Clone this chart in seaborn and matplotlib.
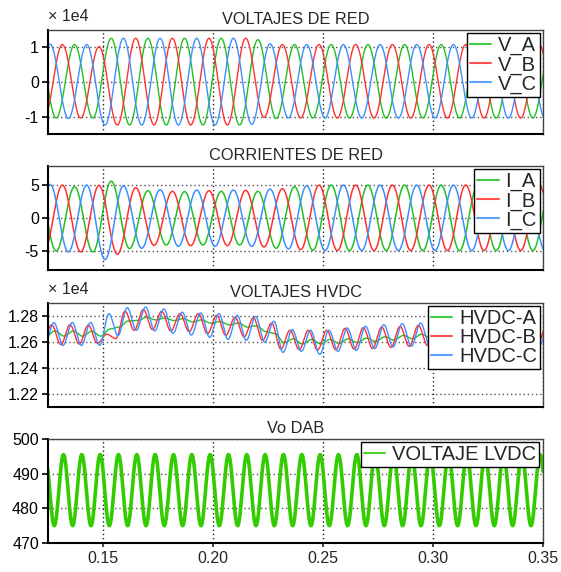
import numpy as np
import pandas as pd
import seaborn as sns
import matplotlib.pyplot as plt

# Waveforms are stored as the successive peak / trough values.
# The time of the first extremum and the half period fix where each one sits.
x_ticks = [0.15, 0.20, 0.25, 0.30, 0.35]
half_60 = 1 / 120   # half period of the 60 Hz grid signals
half_120 = 1 / 240  # half period of the 120 Hz DC ripple

# VOLTAJES DE RED (x 1e4)
volt_names = ['V_A', 'V_B', 'V_C']
volt_start = [0.1204, 0.1232, 0.1176]
volt_a = [1.08, -1.04] * 2 + [1.26, -1.24] * 4 + [1.22, -1.05] + [1.08, -1.04] * 8
volt_b = [-1.04, 1.08, -1.04, 1.02] + [-1.24, 1.26] * 4 + [-1.02, 1.08] + [-1.04, 1.08] * 8
volt_c = [-1.04, 1.09, -1.05, 1.08] + [-1.24, 1.26] * 4 + [-1.22, 1.10] + [-1.04, 1.08] * 8

# CORRIENTES DE RED
curr_names = ['I_A', 'I_B', 'I_C']
curr_start = [0.1204, 0.1232, 0.1176]
curr_a = [4.9, -5.0, 4.75, -5.15, 5.6, -4.65, 4.15, -4.1, 4.0, -4.1, 4.05, -4.1,
          4.05, -4.6, 4.75, -4.9] + [5.0, -4.95] * 7
curr_b = [-5.0, 5.0, -5.15, 4.95, -5.5, 4.6, -4.15, 4.05, -4.2, 4.15, -4.2, 4.2,
          -4.4, 4.45, -4.8, 5.0] + [-4.95, 5.0] * 7
curr_c = [-5.1, 5.1, -5.15, 5.0, -6.3, 4.9, -4.6, 4.3, -4.3, 4.25, -4.3, 4.25,
          -4.3, 4.4, -4.7, 4.9] + [-4.95, 5.0] * 7

# VOLTAJES HVDC (x 1e4)
hvdc_names = ['HVDC-A', 'HVDC-B', 'HVDC-C']
hvdc_start = [0.1240, 0.1225, 0.1235]
hvdc_a = [1.2645, 1.2685, 1.2645, 1.2685, 1.2645, 1.2683, 1.2645, 1.2700, 1.2715, 1.2762,
          1.2765, 1.2790, 1.2770, 1.2785, 1.2765, 1.2780, 1.2755, 1.2770, 1.2745, 1.2758,
          1.2732, 1.2745, 1.2715, 1.2725, 1.2680, 1.2665, 1.2595, 1.2625, 1.2585, 1.2620,
          1.2585, 1.2620, 1.2590, 1.2625, 1.2595, 1.2630, 1.2605, 1.2640, 1.2615, 1.2650,
          1.2625, 1.2660, 1.2630, 1.2665, 1.2635, 1.2668, 1.2638, 1.2670, 1.2640, 1.2672,
          1.2640, 1.2672, 1.2640, 1.2672, 1.2640, 1.2672]
hvdc_b = [1.2585, 1.2733, 1.2580, 1.2733, 1.2585, 1.2730, 1.2590, 1.2660, 1.2626, 1.2836,
          1.2690, 1.2850, 1.2695, 1.2836, 1.2685, 1.2818, 1.2680, 1.2818, 1.2664, 1.2805,
          1.2651, 1.2790, 1.2640, 1.2787, 1.2613, 1.2745, 1.2545, 1.2690, 1.2541, 1.2690,
          1.2538, 1.2690, 1.2540, 1.2705, 1.2545, 1.2710, 1.2550, 1.2715, 1.2558, 1.2720,
          1.2567, 1.2728, 1.2574, 1.2730, 1.2578, 1.2730, 1.2580, 1.2730, 1.2580, 1.2730,
          1.2580, 1.2730, 1.2580, 1.2730, 1.2580, 1.2730]
hvdc_c = [1.2574, 1.2749, 1.2574, 1.2750, 1.2574, 1.2750, 1.2574, 1.2818, 1.2650, 1.2864,
          1.2690, 1.2869, 1.2685, 1.2854, 1.2667, 1.2830, 1.2654, 1.2823, 1.2636, 1.2818,
          1.2620, 1.2805, 1.2613, 1.2797, 1.2600, 1.2760, 1.2520, 1.2695, 1.2528, 1.2690,
          1.2505, 1.2690, 1.2528, 1.2708, 1.2536, 1.2721, 1.2549, 1.2733, 1.2562, 1.2741,
          1.2567, 1.2746, 1.2574, 1.2746, 1.2576, 1.2746, 1.2576, 1.2746, 1.2576, 1.2746,
          1.2576, 1.2746, 1.2576, 1.2746, 1.2576, 1.2746]

# Vo DAB
lvdc_names = ['VOLTAJE LVDC']
lvdc_start = [0.1237]
lvdc = [495.5, 475.0] * 29

GREEN, RED, BLUE = '#22c022', '#ff3030', '#3d8fff'


def waveform(t_first, half, extrema, n=40):
    # smooth half-cosine segment between each pair of read extrema
    ts, vs = [], []
    s = np.linspace(0, 1, n, endpoint=False)
    for i in range(len(extrema) - 1):
        a, b = extrema[i], extrema[i + 1]
        ts.append(t_first + (i + s) * half)
        vs.append((a + b) / 2 + (a - b) / 2 * np.cos(np.pi * s))
    return np.concatenate(ts), np.concatenate(vs)


def panel_frame(names, starts, half, series):
    parts = []
    for name, t0, ext in zip(names, starts, series):
        t, v = waveform(t0, half, ext)
        parts.append(pd.DataFrame({'t': t, 'v': v, 'serie': name}))
    return pd.concat(parts, ignore_index=True)


sns.set_theme(style='white')
plt.rcParams['font.family'] = ['Liberation Sans', 'DejaVu Sans']
plt.rcParams['axes.unicode_minus'] = False

fig = plt.figure(figsize=(5.61, 5.72), dpi=100)
W, H = 561, 572
left, right = 48, 543
tops = [30, 166, 303, 439]
h_px = 104

panels = [
    dict(title='VOLTAJES DE RED', names=volt_names, starts=volt_start, half=half_60,
         series=[volt_a, volt_b, volt_c], colors=[GREEN, RED, BLUE],
         ylim=(-1.5, 1.5), yticks=[-1, 0, 1], fmt='{:g}', scale=True, lw=1.0),
    dict(title='CORRIENTES DE RED', names=curr_names, starts=curr_start, half=half_60,
         series=[curr_a, curr_b, curr_c], colors=[GREEN, RED, BLUE],
         ylim=(-7.9, 7.9), yticks=[-5, 0, 5], fmt='{:g}', scale=False, lw=1.1),
    dict(title='VOLTAJES HVDC', names=hvdc_names, starts=hvdc_start, half=half_120,
         series=[hvdc_a, hvdc_b, hvdc_c], colors=[GREEN, RED, BLUE],
         ylim=(1.21, 1.29), yticks=[1.22, 1.24, 1.26, 1.28], fmt='{:.2f}', scale=True, lw=1.0),
    dict(title='Vo DAB', names=lvdc_names, starts=lvdc_start, half=half_120,
         series=[lvdc], colors=['#33cc00'],
         ylim=(470, 500), yticks=[470, 480, 490, 500], fmt='{:g}', scale=False, lw=2.6),
]

for i, p in enumerate(panels):
    bottom = 1 - (tops[i] + h_px) / H
    ax = fig.add_axes([left / W, bottom, (right - left) / W, h_px / H])
    df = panel_frame(p['names'], p['starts'], p['half'], p['series'])
    sns.lineplot(data=df, x='t', y='v', hue='serie', hue_order=p['names'],
                 palette=dict(zip(p['names'], p['colors'])), estimator=None,
                 sort=False, lw=p['lw'], ax=ax)

    ax.set_xlim(0.125, 0.35)
    ax.set_ylim(*p['ylim'])
    ax.set_xticks(x_ticks)
    ax.set_yticks(p['yticks'])
    ax.set_yticklabels([p['fmt'].format(v) for v in p['yticks']])
    ax.set_xlabel('')
    ax.set_ylabel('')
    ax.set_axisbelow(True)
    ax.xaxis.grid(True, linestyle=(0, (1, 2)), color='#222222', lw=1.0)
    ax.yaxis.grid(True, linestyle=(0, (1, 2)), color='#555555', lw=1.0)
    for side in ['left', 'bottom']:
        ax.spines[side].set_color('black')
        ax.spines[side].set_linewidth(1.5)
    for side in ['top', 'right']:
        ax.spines[side].set_color('#444444')
        ax.spines[side].set_linewidth(1.0)
    ax.tick_params(axis='y', direction='out', length=4.5, width=1.2, pad=2,
                   labelsize=11.5, left=True, colors='black')
    if i == 3:
        ax.tick_params(axis='x', direction='out', length=3, width=1.2, pad=3,
                       labelsize=11.5, bottom=True)
        ax.set_xticklabels(['{:.2f}'.format(v) for v in x_ticks])
    else:
        ax.tick_params(axis='x', length=0, labelbottom=False)

    ax.set_title(p['title'], fontsize=11.8, pad=4)
    if p['scale']:
        ax.annotate('× 1e4', xy=(0, 1), xycoords='axes fraction', xytext=(0, 4),
                    textcoords='offset points', ha='left', va='bottom', fontsize=11.5)

    handles, labels = ax.get_legend_handles_labels()
    for hd in handles:
        hd.set_linewidth(1.5)
        hd.set_alpha(0.85)
    if i == 3:
        leg = ax.legend(handles, labels, loc='upper left',
                        bbox_to_anchor=((361 - left) / (right - left), 0.975),
                        fontsize=14.5, frameon=True, fancybox=False, framealpha=1,
                        borderpad=0.15, labelspacing=0.0, handlelength=1.05,
                        handletextpad=0.35, borderaxespad=0.0)
    else:
        leg = ax.legend(handles, labels, loc='upper right', fontsize=14.5,
                        frameon=True, fancybox=False, framealpha=1,
                        borderpad=0.15, labelspacing=0.0, handlelength=1.05,
                        handletextpad=0.35, borderaxespad=0.15)
    leg.get_frame().set_edgecolor('black')
    leg.get_frame().set_linewidth(1.0)

fig.savefig('out.png', dpi=100)
